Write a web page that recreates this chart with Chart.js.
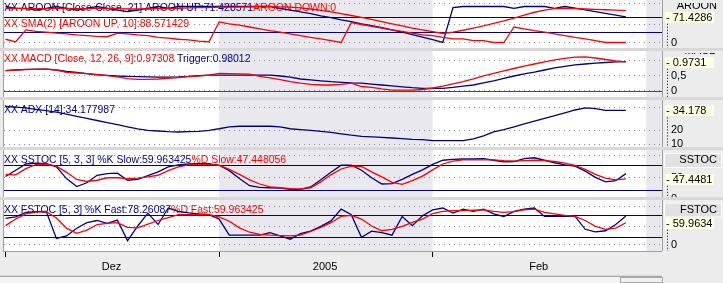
<!DOCTYPE html>
<html>
<head>
<meta charset="utf-8">
<script src="https://cdn.jsdelivr.net/npm/chart.js@4.4.0/dist/chart.umd.min.js"></script>
<style>
  html, body { margin: 0; padding: 0; background: #ececec; }
  #wrap { position: relative; width: 723px; height: 283px; overflow: hidden; background: #d8d8d8; }
  #wrap canvas { position: absolute; left: 0; }
  #scroll { position: absolute; left: 0; top: 276px; width: 662px; height: 7px; background: #f4f4f4; border-top: 1px solid #a8a8a8; }
  #thumb { position: absolute; left: 620px; top: 277px; width: 41px; height: 4px; border: 1px solid #a8a8a8; background: #f0f0f0; }
  #corner { position: absolute; left: 662px; top: 251px; width: 61px; height: 32px; background: #ececec; }
</style>
</head>
<body>
<div id="wrap">
  <canvas id="p1" width="723" height="50"></canvas>
  <canvas id="p2" width="723" height="46"></canvas>
  <canvas id="p3" width="723" height="47"></canvas>
  <canvas id="p4" width="723" height="47"></canvas>
  <canvas id="p5" width="723" height="75"></canvas>
  <div id="corner"></div>
  <div id="scroll"></div>
  <div id="thumb"></div>
</div>
<script>
// trading days shown on the chart
const DATES = [
  "2004-12-01", "2004-12-02", "2004-12-03", "2004-12-06", "2004-12-07", "2004-12-08", "2004-12-09",
  "2004-12-10", "2004-12-13", "2004-12-14", "2004-12-15", "2004-12-16", "2004-12-17", "2004-12-20",
  "2004-12-21", "2004-12-22", "2004-12-23", "2004-12-27", "2004-12-28", "2004-12-29", "2004-12-30",
  "2005-01-03", "2005-01-04", "2005-01-05", "2005-01-06", "2005-01-07", "2005-01-10", "2005-01-11",
  "2005-01-12", "2005-01-13", "2005-01-14", "2005-01-17", "2005-01-18", "2005-01-19", "2005-01-20",
  "2005-01-21", "2005-01-24", "2005-01-25", "2005-01-26", "2005-01-27", "2005-01-28", "2005-01-31",
  "2005-02-01", "2005-02-02", "2005-02-03", "2005-02-04", "2005-02-07", "2005-02-08", "2005-02-09",
  "2005-02-10", "2005-02-11", "2005-02-14", "2005-02-15", "2005-02-16", "2005-02-17", "2005-02-18",
  "2005-02-21", "2005-02-22", "2005-02-23", "2005-02-24", "2005-02-25", "2005-02-28"
];
const MONTH_LABELS = ["Dez", "2005", "Feb"];

const AROON_UP = [100, 95, 95, 90, 95, 100, 95, 90, 95, 100,
  95, 90, 86, 90, 95, 100, 95, 100, 100, 100,
  100, 100, 100, 100, 100, 100, 100, 95, 90, 85,
  80, 74, 69, 63, 58, 52, 47, 41, 35, 29,
  22, 15, 8, 0, 97, 100, 100, 100, 100, 100,
  95, 100, 100, 100, 95, 100, 95.2, 90.5, 85.7, 81,
  76.2, 71.43];
const AROON_DOWN = [9, 2, 35, 31, 29, 26, 24, 21, 19, 17,
  16, 26, 24, 21, 19, 14, 12, 9, 7, 4,
  2, 57, 52, 48, 43, 38, 33, 29, 24, 19,
  14, 10, 5, 0, 55, 50, 45, 40, 35, 31,
  26, 21, 19, 14, 10, 10, 5, 5, 0, 0,
  43, 38, 33, 29, 24, 19, 14, 10, 5, 0,
  0, 0];
const AROON_SMA = [95, 95, 94, 94, 94, 95, 95, 94, 94, 95,
  95, 94, 93, 93, 93, 94, 94, 95, 96, 97,
  97, 98, 98, 99, 99, 100, 100, 99, 98, 96,
  93, 89, 85, 80, 75, 70, 64, 58, 52, 46,
  40, 35, 30, 25, 29, 34, 40, 46, 53, 60,
  68, 76, 84, 90, 94, 95, 94, 93, 92, 91,
  90, 88.57];

const MACD = [0.68, 0.70, 0.71, 0.72, 0.73, 0.70, 0.62, 0.60, 0.58, 0.55,
  0.51, 0.47, 0.41, 0.39, 0.39, 0.40, 0.42, 0.45, 0.48, 0.50,
  0.53, 0.59, 0.58, 0.57, 0.56, 0.49, 0.44, 0.38, 0.31, 0.26,
  0.22, 0.20, 0.20, 0.22, 0.26, 0.15, 0.12, 0.07, 0.03, 0.03,
  0.03, 0.05, 0.10, 0.16, 0.24, 0.31, 0.40, 0.50, 0.59, 0.67,
  0.75, 0.83, 0.90, 0.97, 1.04, 1.09, 1.13, 1.14, 1.10, 1.05,
  1.00, 0.973];
const MACD_TRIGGER = [0.68, 0.70, 0.72, 0.73, 0.73, 0.70, 0.65, 0.62, 0.58, 0.54,
  0.52, 0.50, 0.49, 0.48, 0.47, 0.46, 0.46, 0.47, 0.49, 0.51,
  0.53, 0.53, 0.53, 0.53, 0.53, 0.53, 0.53, 0.50, 0.46, 0.40,
  0.37, 0.34, 0.31, 0.29, 0.27, 0.26, 0.23, 0.20, 0.17, 0.14,
  0.11, 0.09, 0.09, 0.09, 0.12, 0.16, 0.20, 0.27, 0.34, 0.42,
  0.50, 0.57, 0.63, 0.70, 0.77, 0.82, 0.87, 0.90, 0.93, 0.95,
  0.97, 0.980];

const ADX = [37, 36.5, 36, 35, 34, 33, 31.5, 30, 28.5, 27,
  25.5, 24, 22.5, 21, 20, 19.5, 19, 18.8, 19, 19.3,
  20, 21.1, 22.5, 22.9, 22.9, 22.9, 22.9, 22.5, 21.1, 20.5,
  20, 19.3, 18.5, 17.5, 16.5, 15.7, 15.3, 15, 14.5, 14,
  13.5, 13.3, 12.6, 12.6, 12.6, 12.6, 13.8, 16, 18.8, 20.5,
  22.5, 24.5, 26.5, 28.5, 30.5, 32.5, 34.5, 36, 35.5, 34.2,
  34.2, 34.18];

const SSTOC_K = [53, 68, 83, 85, 84, 76, 48, 29, 38, 56,
  60, 61, 44, 46, 55, 64, 76, 81, 83, 84,
  84, 80, 67, 48, 31, 27, 26, 25, 22, 22,
  28, 45, 63, 80, 80, 68, 50, 35, 36, 46,
  58, 69, 82, 92, 94, 95, 95, 96, 92, 88,
  89, 96, 98, 92, 86, 81, 78, 66, 51, 40,
  43, 59.96];
const SSTOC_D = [58, 57, 72, 82, 83, 78, 63, 46, 41, 44,
  50, 50, 48, 49, 52, 56, 67, 76, 81, 82,
  82, 80, 70, 58, 45, 35, 28, 26, 24, 23,
  26, 40, 57, 71, 78, 77, 64, 52, 39, 34,
  43, 54, 69, 83, 90, 93, 93, 93, 93, 91,
  90, 91, 92, 91, 89, 85, 80, 70, 58, 49,
  45, 47.45];
const FSTOC_K = [72, 76, 88, 90, 91, 17, 24, 45, 60, 66,
  58, 67, 11, 51, 86, 55, 100, 91, 87, 84,
  82, 70, 26, 26, 26, 26, 33, 24, 15, 30,
  37, 50, 65, 97, 82, 20, 37, 33, 26, 77,
  52, 79, 95, 100, 86, 97, 91, 97, 84, 77,
  91, 97, 100, 77, 77, 77, 77, 42, 35, 38,
  55, 78.26];
const FSTOC_D = [52, 70, 84, 89, 90, 73, 45, 31, 40, 55,
  58, 60, 47, 46, 56, 66, 74, 82, 82, 82,
  82, 76, 64, 46, 34, 28, 26, 25, 24, 26,
  36, 47, 60, 77, 80, 70, 51, 38, 42, 50,
  61, 70, 85, 91, 93, 93, 94, 95, 91, 88,
  90, 95, 97, 88, 84, 80, 77, 66, 50, 42,
  45, 59.96];

const NAVY = "#000080";
const RED = "#ff0000";
const BAND = "#e8e8ee";
const FONT = "Liberation Sans, Arial, sans-serif";

const X_MIN = -0.15;
const X_MAX = 64.55;
const monthStart = DATES.map((d, i) => (i === 0 || d.slice(0, 7) !== DATES[i - 1].slice(0, 7) ? i : -1)).filter((i) => i >= 0);
const futureStart = DATES.length + 1;

const xy = (arr) => arr.map((v, i) => ({ x: i, y: v }));

function drawSegs(ctx, segs, x, y) {
  ctx.save();
  ctx.translate(x, y);
  ctx.scale(0.95, 1);
  ctx.font = "11px " + FONT;
  ctx.textBaseline = "middle";
  let cx = 0;
  for (const [t, c] of segs) {
    ctx.fillStyle = c;
    ctx.fillText(t, cx, 0);
    cx += ctx.measureText(t).width;
  }
  ctx.restore();
}

const chrome = {
  id: "chrome",
  beforeDraw(chart, args, o) {
    const { ctx, chartArea: a } = chart;
    const xs = chart.scales.x;
    ctx.save();
    ctx.fillStyle = "#ececec";
    ctx.fillRect(0, 0, chart.width, chart.height);
    ctx.fillStyle = "#ffffff";
    ctx.fillRect(a.left, a.top, a.width, a.height);
    ctx.fillStyle = BAND;
    const j0 = xs.getPixelForValue(monthStart[1]);
    const j1 = xs.getPixelForValue(monthStart[2]);
    ctx.fillRect(j0, a.top, j1 - j0, a.height);
    const f0 = xs.getPixelForValue(futureStart);
    ctx.fillRect(f0, a.top, a.right - f0, a.height);
    ctx.restore();
  },
  beforeDatasetsDraw(chart, args, o) {
    const { ctx, chartArea: a } = chart;
    const ys = chart.scales.y;
    ctx.save();
    for (const lv of o.levels || []) {
      const y = Math.round(ys.getPixelForValue(lv.v)) + 0.5;
      ctx.strokeStyle = lv.color;
      ctx.lineWidth = 1;
      ctx.beginPath();
      ctx.moveTo(a.left, y);
      ctx.lineTo(a.right, y);
      ctx.stroke();
    }
    for (const t of o.titles || []) drawSegs(ctx, t.segs, 4, t.y);
    ctx.restore();
  },
  afterDraw(chart, args, o) {
    const { ctx, chartArea: a } = chart;
    const ys = chart.scales.y;
    ctx.save();
    // plot border
    ctx.strokeStyle = "#a0a0a0";
    ctx.lineWidth = 1;
    ctx.strokeRect(a.left - 0.5, a.top - 0.5, a.width + 1, a.height + 1);
    // header in the right column
    if (o.header) {
      const h = o.header;
      if (h.box) {
        ctx.fillStyle = "#e2e2e2";
        ctx.fillRect(664, h.y - 7, 58, 15);
        ctx.strokeStyle = "#ffffff";
        ctx.strokeRect(664.5, h.y - 6.5, 57, 14);
      }
      ctx.save();
      ctx.beginPath();
      ctx.rect(663, h.clip, 60, 40);
      ctx.clip();
      ctx.fillStyle = "#000";
      ctx.font = "11px " + FONT;
      ctx.textAlign = "right";
      ctx.textBaseline = "middle";
      ctx.fillText(h.text, 717, h.y);
      ctx.restore();
    }
    // last value box
    const vy = ys.getPixelForValue(o.value.v);
    ctx.strokeStyle = "#000";
    ctx.setLineDash([1, 2]);
    ctx.beginPath();
    ctx.moveTo(667.5, vy + 7);
    ctx.lineTo(667.5, a.bottom);
    ctx.stroke();
    ctx.setLineDash([]);
    ctx.fillStyle = "#ffffe1";
    ctx.fillRect(665, Math.round(vy) - 5, 49, 11);
    ctx.fillStyle = "#000";
    ctx.font = "11px " + FONT;
    ctx.textBaseline = "middle";
    ctx.fillText("- " + o.value.text, 666, Math.round(vy) + 0.5);
    ctx.restore();
  }
};

function yAxis(min, max, grid, labels) {
  return {
    position: "right",
    min: min,
    max: max,
    afterBuildTicks: (s) => { s.ticks = grid.map((v) => ({ value: v })); },
    afterFit: (s) => { s.width = 61; s.paddingTop = 0; s.paddingBottom = 0; },
    grid: { color: "#8c8c8c", lineWidth: 1, drawTicks: false },
    border: { display: false, dash: [1, 4] },
    ticks: {
      autoSkip: false,
      padding: 9,
      color: "#000",
      font: { family: FONT, size: 11 },
      callback: (v) => (labels[v] !== undefined ? labels[v] : "")
    }
  };
}

function line(data, color) {
  return { data: xy(data), borderColor: color, borderWidth: 1.3, pointRadius: 0, tension: 0, fill: false };
}

function panel(id, top, datasets, y, chromeOpts, withAxis) {
  const canvas = document.getElementById(id);
  canvas.style.top = top + "px";
  const x = {
    type: "linear",
    min: X_MIN,
    max: X_MAX,
    display: !!withAxis
  };
  if (withAxis) {
    Object.assign(x, {
      afterBuildTicks: (s) => { s.ticks = monthStart.map((v) => ({ value: v })); },
      afterFit: (s) => { s.height = 24; s.paddingLeft = 0; s.paddingRight = 0; },
      grid: { drawOnChartArea: false, drawTicks: true, tickLength: 6, color: "#000", lineWidth: 1 },
      border: { display: false },
      ticks: {
        autoSkip: false,
        maxRotation: 0,
        minRotation: 0,
        padding: 3,
        labelOffset: 106,
        color: "#000",
        font: { family: FONT, size: 11 },
        callback: (v, i) => MONTH_LABELS[i]
      }
    });
  }
  return new Chart(canvas.getContext("2d"), {
    type: "line",
    data: { datasets: datasets },
    options: {
      responsive: false,
      animation: false,
      events: [],
      devicePixelRatio: 1,
      layout: { padding: { left: 4, right: 0, top: 0, bottom: 0 } },
      scales: { x: x, y: y },
      plugins: { legend: { display: false }, tooltip: { enabled: false }, chrome: chromeOpts }
    },
    plugins: [chrome]
  });
}

panel("p1", -2,
  [line(AROON_SMA, RED), line(AROON_DOWN, RED), line(AROON_UP, NAVY)],
  yAxis(-15.3, 123.6, [0, 50, 109], { 0: "0" }),
  {
    levels: [{ v: 70, color: NAVY }, { v: 30, color: NAVY }],
    titles: [
      { y: 10, segs: [["XX AROON [Close-Close, 21] AROON UP:71.428571", NAVY], ["AROON DOWN:0", RED]] },
      { y: 25.5, segs: [["XX SMA(2) [AROON UP, 10]:88.571429", RED]] }
    ],
    header: { text: "AROON", y: 8, clip: 5 },
    value: { v: 71.4286, text: "71.4286" }
  });

panel("p2", 51,
  [line(MACD, RED), line(MACD_TRIGGER, NAVY)],
  yAxis(-0.2, 1.333, [0, 0.5, 1], { 0: "0", 0.5: "0,5" }),
  {
    levels: [{ v: 0, color: RED }],
    titles: [{ y: 8.3, segs: [["XX MACD [Close, 12, 26, 9]:0.97308 ", RED], ["Trigger:0.98012", NAVY]] }],
    header: { text: "MACD", y: 0, clip: 2 },
    value: { v: 0.9731, text: "0.9731" }
  });

panel("p3", 100,
  [line(ADX, NAVY)],
  yAxis(8.07, 41.64, [10, 20, 36.5], { 10: "10", 20: "20" }),
  {
    titles: [{ y: 9.7, segs: [["XX ADX [14]:34.177987", NAVY]] }],
    value: { v: 34.178, text: "34.178" }
  });

panel("p4", 150,
  [line(SSTOC_D, RED), line(SSTOC_K, NAVY)],
  yAxis(3.8, 116.6, [0, 50, 104], { 0: "0", 50: "50" }),
  {
    levels: [{ v: 80, color: NAVY }, { v: 20, color: NAVY }],
    titles: [{ y: 9.7, segs: [["XX SSTOC [5, 3, 3] %K Slow:59.963425", NAVY], ["%D Slow:47.448056", RED]] }],
    header: { text: "SSTOC", y: 10, clip: 0, box: true },
    value: { v: 47.4481, text: "47.4481" }
  });

panel("p5", 200,
  [line(FSTOC_D, RED), line(FSTOC_K, NAVY)],
  yAxis(-17.2, 121.9, [0, 50, 105], { 0: "0", 50: "50" }),
  {
    levels: [{ v: 80, color: NAVY }, { v: 20, color: NAVY }],
    titles: [{ y: 10, segs: [["XX FSTOC [5, 3] %K Fast:78.26087", NAVY], ["%D Fast:59.963425", RED]] }],
    header: { text: "FSTOC", y: 9.5, clip: 0, box: true },
    value: { v: 59.9634, text: "59.9634" }
  }, true);
</script>
</body>
</html>
